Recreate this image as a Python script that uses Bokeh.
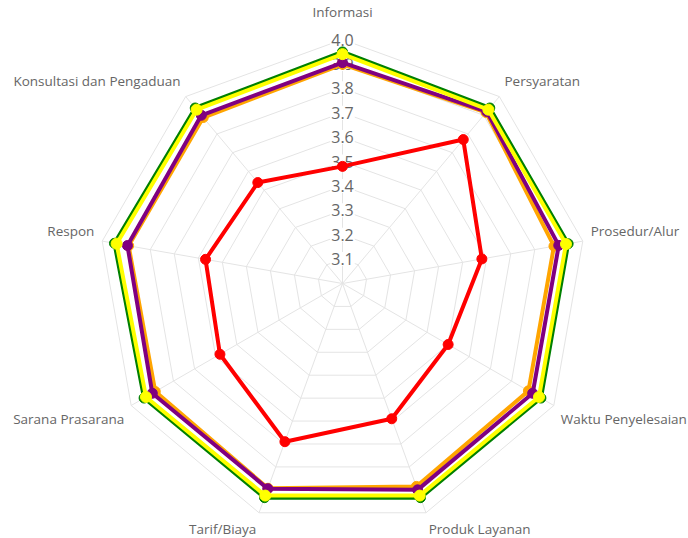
import numpy as np
from bokeh.plotting import figure
from bokeh.models import Range1d, ColumnDataSource
from bokeh.core.properties import value
from bokeh.embed import file_html
from bokeh.resources import INLINE

categories = ["Informasi", "Persyaratan", "Prosedur/Alur", "Waktu Penyelesaian",
              "Produk Layanan", "Tarif/Biaya", "Sarana Prasarana", "Respon",
              "Konsultasi dan Pengaduan"]
series_green  = [3.949, 3.939, 3.939, 3.939, 3.934, 3.934, 3.939, 3.949, 3.939]
series_yellow = [3.940, 3.930, 3.930, 3.930, 3.925, 3.925, 3.930, 3.940, 3.930]
series_purple = [3.905, 3.920, 3.900, 3.900, 3.900, 3.895, 3.900, 3.895, 3.900]
series_orange = [3.898, 3.915, 3.880, 3.880, 3.885, 3.893, 3.886, 3.890, 3.888]
series_red    = [3.480, 3.770, 3.580, 3.500, 3.590, 3.690, 3.580, 3.570, 3.540]
tick_values = [3.1, 3.2, 3.3, 3.4, 3.5, 3.6, 3.7, 3.8, 3.9, 4.0]
tick_labels = ["3.1", "3.2", "3.3", "3.4", "3.5", "3.6", "3.7", "3.8", "3.9", "4.0"]
scale_min, scale_max = 3.0, 4.0

R = 244.0
n = len(categories)
theta = np.arange(n) * 2 * np.pi / n

def rad(v):
    return (np.asarray(v, dtype=float) - scale_min) / (scale_max - scale_min) * R

def polar(v):
    r = rad(v)
    return r * np.sin(theta), r * np.cos(theta)

p = figure(width=688, height=538, output_backend="svg", toolbar_location=None,
           x_range=Range1d(-342, 346), y_range=Range1d(-255, 283),
           x_axis_type=None, y_axis_type=None, min_border=0)
p.grid.visible = False
p.outline_line_color = None
p.background_fill_color = "white"
p.border_fill_color = "white"

grid_col = "#e4e4e4"
# polygon grid
xs, ys = [], []
for t in tick_values:
    gx, gy = polar([t] * n)
    xs.append(list(gx) + [gx[0]])
    ys.append(list(gy) + [gy[0]])
p.multi_line(xs, ys, line_color=grid_col, line_width=1)
# spokes
ox, oy = polar([scale_max] * n)
p.multi_line([[0, a] for a in ox], [[0, b] for b in oy], line_color=grid_col, line_width=1)

# tick labels
tsrc = ColumnDataSource(dict(x=[0.0] * len(tick_values), y=list(rad(tick_values)), t=tick_labels))
p.text(x="x", y="y", text="t", source=tsrc, text_align="center", text_baseline="middle",
       text_font=value("Open Sans"), text_font_size="16px", text_color="#666666",
       background_fill_color="white", padding=1)

# point labels
deg = np.degrees(theta)
lx, ly, al, bl = [], [], [], []
for i, a in enumerate(deg):
    r = R + 8 + (11 if i == 0 else 0)
    lx.append(r * np.sin(theta[i]))
    ly.append(r * np.cos(theta[i]))
    if abs(a) < 1e-6 or abs(a - 180) < 1e-6:
        al.append("center")
    elif a < 180:
        al.append("left")
    else:
        al.append("right")
    if abs(a - 90) < 1e-6 or abs(a - 270) < 1e-6:
        bl.append("middle")
    elif a < 90 or a > 270:
        bl.append("bottom")
    else:
        bl.append("top")
lsrc = ColumnDataSource(dict(x=lx, y=ly, t=categories, a=al, b=bl))
p.text(x="x", y="y", text="t", source=lsrc, text_align="a", text_baseline="b",
       text_font=value("Open Sans"), text_font_size="13.5px", text_color="#666666")

# series
for vals, col, sz in [(series_orange, "#ffa500", 10), (series_purple, "#800080", 10),
                      (series_green, "#008000", 10), (series_yellow, "#ffff00", 11),
                      (series_red, "#ff0000", 10)]:
    x, y = polar(vals)
    p.line(list(x) + [x[0]], list(y) + [y[0]], line_color=col, line_width=4, line_join="round")
    p.scatter(x, y, size=sz, fill_color=col, line_color=col)

open("out.html", "w").write(file_html(p, INLINE))
